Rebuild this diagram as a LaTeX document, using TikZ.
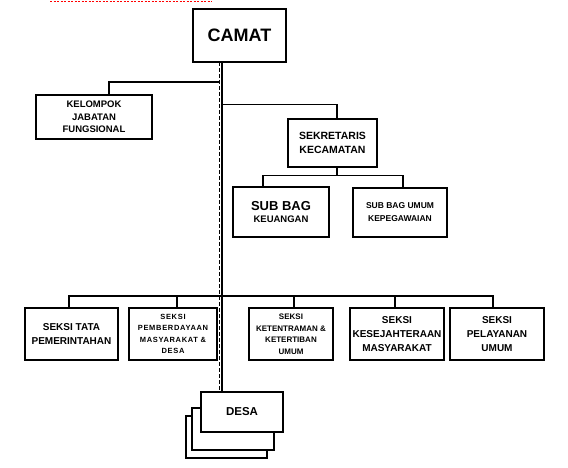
\documentclass[tikz,border=0pt]{standalone}
\usepackage{fontspec}
\setmainfont{Liberation Sans}
\begin{document}
\begin{tikzpicture}[x=1pt,y=-1pt,
    unit/.style={draw, fill=white, line width=1.4pt, align=center, inner sep=1pt,
      font=\bfseries\fontsize{9.5}{12.5}\selectfont},
    small/.style={font=\bfseries\fontsize{7.5}{11.5}\selectfont\addfontfeatures{LetterSpace=9}},
    link/.style={line width=1.1pt}]
    \useasboundingbox (0,0) rectangle (568,468);

    % cut-off line at the top
    \draw[red, line width=1.2pt, dash pattern=on 2pt off 1.5pt] (50,1.5) -- (212,1.5);

    % head
    \node[unit, minimum width=93pt, minimum height=53pt,
      font=\bfseries\fontsize{18}{20}\selectfont] (camat) at (239.5,35.5) {CAMAT};

    \node[unit, minimum width=116pt, minimum height=44pt] (kelompok) at (94,117)
      {KELOMPOK\\JABATAN\\FUNGSIONAL};

    \node[unit, minimum width=89pt, minimum height=48pt,
      font=\bfseries\fontsize{10.5}{14}\selectfont] (sekretaris) at (332.5,143)
      {SEKRETARIS\\KECAMATAN};

    \node[unit, minimum width=96pt, minimum height=50pt] (keuangan) at (281,212)
      {{\fontsize{13}{14}\selectfont SUB BAG}\\KEUANGAN};
    \node[unit, minimum width=94pt, minimum height=49pt,
      font=\bfseries\fontsize{8.5}{13}\selectfont] (kepegawaian) at (400,212.5)
      {SUB BAG UMUM\\KEPEGAWAIAN};

    % seksi
    \node[unit, minimum width=93pt, minimum height=52pt,
      font=\bfseries\fontsize{10}{14}\selectfont] (tata) at (71.5,334)
      {SEKSI TATA\\PEMERINTAHAN};
    \node[unit, small, minimum width=88pt, minimum height=52pt] (berdaya) at (173,334)
      {SEKSI\\PEMBERDAYAAN\\MASYARAKAT \&\\DESA};
    \node[unit, minimum width=84pt, minimum height=52pt,
      font=\bfseries\fontsize{8}{11.5}\selectfont] (tentram) at (291,334)
      {SEKSI\\KETENTRAMAN \&\\KETERTIBAN\\UMUM};
    \node[unit, minimum width=94pt, minimum height=52pt,
      font=\bfseries\fontsize{10}{14}\selectfont] (sejahtera) at (397,334)
      {SEKSI\\KESEJAHTERAAN\\MASYARAKAT};
    \node[unit, minimum width=94pt, minimum height=52pt,
      font=\bfseries\fontsize{10}{14}\selectfont] (layanan) at (497,334)
      {SEKSI\\PELAYANAN\\UMUM};

    % desa
    \node[unit, minimum width=81pt, minimum height=42pt] (desac) at (226.5,437) {};
    \node[unit, minimum width=82pt, minimum height=42pt] (desab) at (233,429) {};
    \node[unit, minimum width=82pt, minimum height=40pt,
      font=\bfseries\fontsize{11.5}{13}\selectfont] (desa) at (242,412) {DESA};

    % spine
    \coordinate (spinetop) at (222,62);
    \coordinate (spinebot) at (222,392);
    \draw[link] (spinetop) -- (spinebot);
    \draw[line width=1pt, dash pattern=on 4pt off 2pt] ([xshift=-3pt]spinetop) -- ([xshift=-3pt]spinebot);

    % branches
    \coordinate (kel) at (219,82);
    \draw[link] (kel) -| ([xshift=15pt]kelompok.north);
    \coordinate (sek) at (222,104.5);
    \draw[link] (sek) -| ([xshift=4.5pt]sekretaris.north);

    \coordinate (sub) at ([yshift=-8pt]sekretaris.south);
    \draw[link] ([xshift=4.5pt]sekretaris.south) -- ([xshift=4.5pt]sub);
    \draw[link] ([xshift=-18pt]keuangan.north) |- ([xshift=4.5pt]sub) -| ([xshift=3pt]kepegawaian.north);

    \coordinate (bar) at (0,296);
    \draw[link] (tata.north -| 69,0) |- (bar -| 493,0) -- (493,0 |- layanan.north);
    \draw[link] (177,0 |- bar) -- (177,0 |- berdaya.north);
    \draw[link] (294,0 |- bar) -- (294,0 |- tentram.north);
    \draw[link] (395,0 |- bar) -- (395,0 |- sejahtera.north);
\end{tikzpicture}
\end{document}
